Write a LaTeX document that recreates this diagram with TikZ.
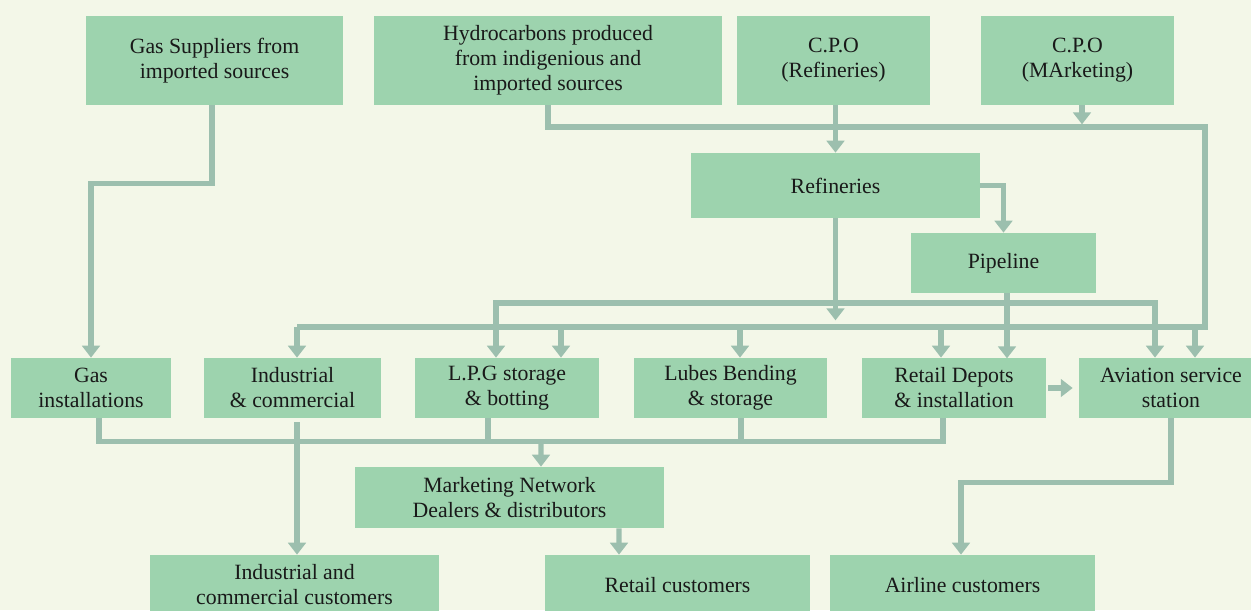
\documentclass[tikz,border=0pt]{standalone}
\usepackage{fontspec}
\setmainfont{Liberation Serif}
\usetikzlibrary{arrows.meta,positioning,calc}
\definecolor{bgcream}{HTML}{F3F7E8}
\definecolor{boxgreen}{HTML}{9DD3AE}
\definecolor{linkgray}{HTML}{9CBFAE}

\begin{document}
\begin{tikzpicture}[x=0.02cm, y=-0.02cm,
    box/.style={rectangle, fill=boxgreen, inner sep=0pt, align=center, text=black!90,
      font=\fontsize{12.4}{14.2}\selectfont},
    link/.style={linkgray, line width=3pt},
    flow/.style={link, -{Triangle[length=6.8pt,width=10pt]}}]
    % Page
    \useasboundingbox (0,0) rectangle (1251,610);
    \fill[bgcream] (0,0) rectangle (1251,610);
    \clip (0,0) rectangle (1251,610);

    % Sources
    \node[box, minimum width=5.14cm, minimum height=1.78cm] (gassup) at (214.5,60.5) {Gas Suppliers from\\imported sources};
    \node[box, minimum width=6.96cm, minimum height=1.78cm] (hydro) at (548,60.5) {Hydrocarbons produced\\from indigenious and\\imported sources};
    \node[box, minimum width=3.86cm, minimum height=1.78cm] (cporef) at (833.5,60.5) {C.P.O\\(Refineries)};
    \node[box, minimum width=3.86cm, minimum height=1.78cm] (cpomkt) at (1077.5,60.5) {C.P.O\\(MArketing)};
    \node[box, minimum width=5.78cm, minimum height=1.30cm] (refin) at (835.5,185.5) {Refineries};
    \node[box, minimum width=3.70cm, minimum height=1.20cm] (pipe) at (1003.5,263) {Pipeline};

    % Installations
    \node[box, minimum width=3.20cm, minimum height=1.20cm] (gasinst) at (91,388) {Gas\\installations};
    \node[box, minimum width=3.54cm, minimum height=1.20cm] (indcom) at (292.5,388) {Industrial\\\& commercial};
    \node[box, minimum width=3.68cm, minimum height=1.20cm] (lpg) at (507,388) {L.P.G storage\\\& botting};
    \node[box, minimum width=3.86cm, minimum height=1.20cm] (lubes) at (730.5,388) {Lubes Bending\\\& storage};
    \node[box, minimum width=3.68cm, minimum height=1.20cm] (retail) at (954,388) {Retail Depots\\\& installation};
    \node[box, minimum width=3.68cm, minimum height=1.20cm] (aviat) at (1171,388) {Aviation service\\station};

    % Customers
    \node[box, minimum width=6.18cm, minimum height=1.22cm] (mktnet) at (509.5,497.5) {Marketing Network\\Dealers \& distributors};
    \node[box, minimum width=5.78cm, minimum height=1.20cm] (indcust) at (294.5,585) {Industrial and\\commercial customers};
    \node[box, minimum width=5.30cm, minimum height=1.20cm] (retcust) at (677.5,585) {Retail customers};
    \node[box, minimum width=5.32cm, minimum height=1.20cm] (aircust) at (962.5,585) {Airline customers};

    % Bus points
    \coordinate (hloop) at (1205,127);
    \coordinate (busA) at (836,303);
    \coordinate (busB) at (297,327);
    \coordinate (busC) at (541,441);

    % Upper flows
    \draw[flow] ($(gassup.south)+(-2.5,0)$) |- ($(gasinst.north)+(0,-174)$) -- (gasinst.north);
    \draw[link] (hydro.south) |- (hloop) |- (busB);
    \draw[flow] ($(cpomkt.south)+(4.5,0)$) -- ++(0,19);
    \draw[flow] (cporef.south -| refin.north) -- (refin.north);
    \draw[flow] (refin.east) -| (pipe.north);
    \draw[flow] (refin.south) -- ++(0,102);
    \draw[flow] (busA) -| ($(lpg.north)+(-11,0)$);
    \draw[flow] (busA) -| ($(aviat.north)+(-16,0)$);
    \foreach \tgt/\dx in {indcom/4.5, lpg/54, lubes/9.5, retail/-13, aviat/24}
      \draw[flow] ($(\tgt.north)+(\dx,-31)$) -- ($(\tgt.north)+(\dx,0)$);
    \draw[flow] ($(pipe.south)+(3.5,0)$) -- ++(0,65);
    \draw[flow, line width=3.4pt, shorten <=1pt, shorten >=3.4pt] (retail.east) -- (aviat.west);

    % Lower flows
    \draw[link] ($(gasinst.south)+(8,0)$) |- ($(retail.south)+(-11,23)$) -- ($(retail.south)+(-11,0)$);
    \foreach \src/\dx in {lpg/-19, lubes/10.5}
      \draw[link] ($(\src.south)+(\dx,0)$) -- ++(0,23);
    \draw[flow] (busC) -- ($(mktnet.north)+(31.5,0)$);
    \draw[flow] ($(indcom.south)+(4.5,4)$) -- ($(indcust.north)+(2.5,0)$);
    \draw[flow] ($(mktnet.south)+(109.5,0)$) -- ($(retcust.north)+(-58.5,0)$);
    \draw[flow] (aviat.south) -- ++(0,64) -| ($(aircust.north)+(-1.5,0)$);
\end{tikzpicture}
\end{document}
